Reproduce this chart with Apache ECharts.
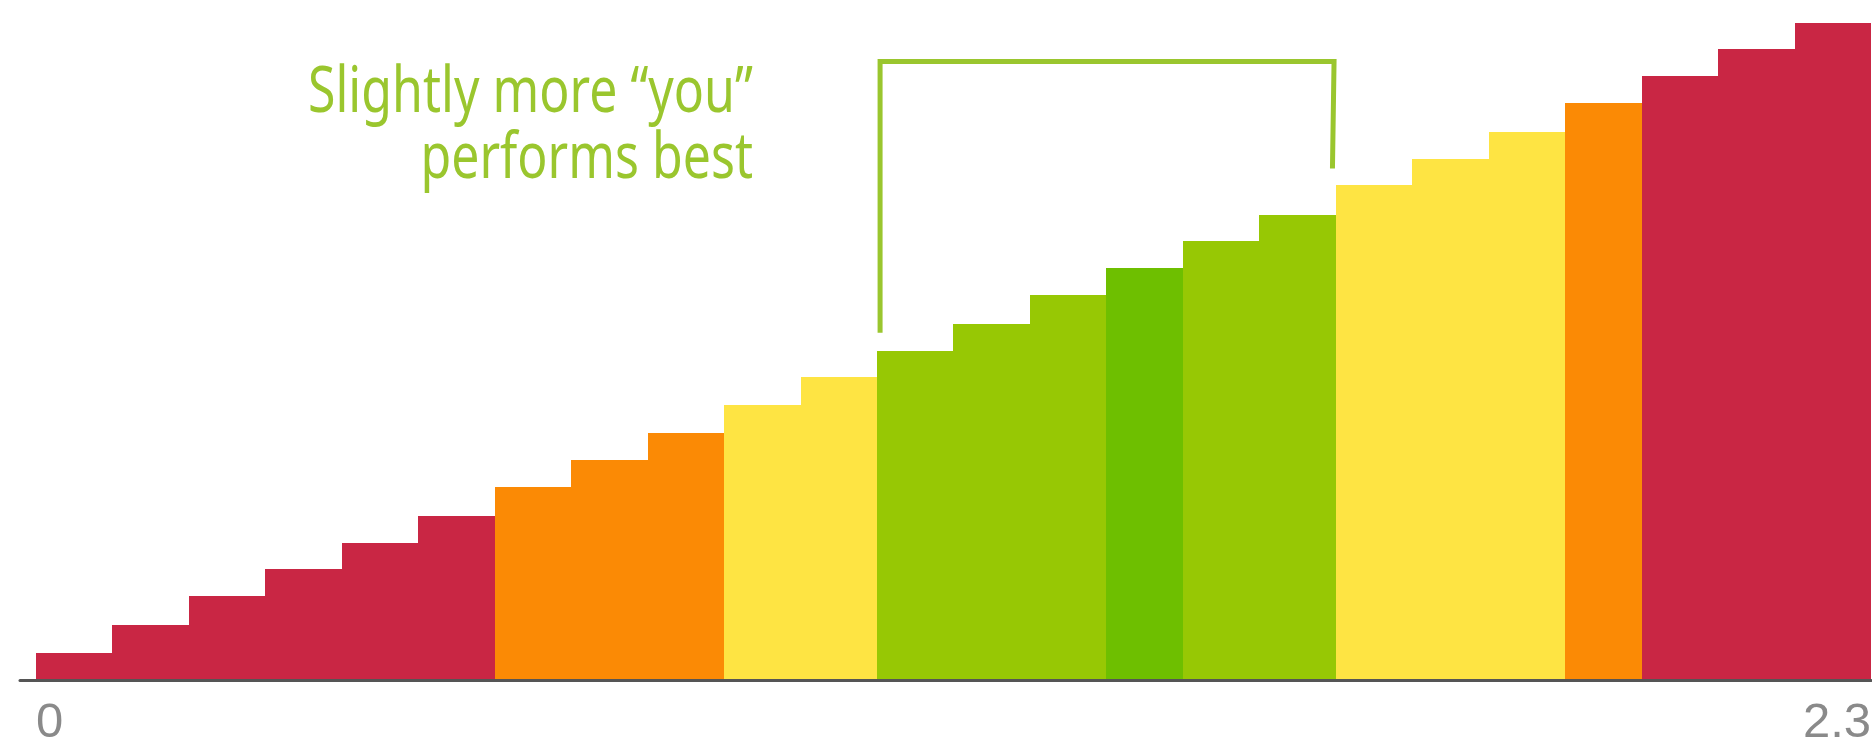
<!DOCTYPE html>
<html><head><meta charset="utf-8">
<script src="https://cdn.jsdelivr.net/npm/echarts@6/dist/echarts.min.js"></script>
<style>html,body{margin:0;padding:0;background:#fff}#chart{width:1872px;height:742px}</style>
</head><body><div id="chart"></div>
<script>
// ---- data ----
const xRange = [0, 2.3];
const xTickValues = [0, 2.3];
const xTickLabels = ['0', '2.3'];
const values = [1.02, 2.01, 3.07, 4.06, 5.01, 5.99, 7.05, 8.04, 9.02, 10.05, 11.07, 12.02,
                13.01, 14.07, 15.05, 16.04, 16.99, 18.09, 19.04, 20.02, 21.08, 22.07, 23.05, 24.0];
const groups = ['red','red','red','red','red','red','orange','orange','orange','yellow','yellow',
                'green','green','green','darkgreen','green','green','yellow','yellow','yellow',
                'orange','red','red','red'];
const annotationLines = ['Slightly more \u201Cyou\u201D', 'performs best'];
const bracketPoints = [[1.058, 12.7], [1.058, 22.6], [1.627, 22.6], [1.625, 18.7]];

// ---- styles ----
const palette = {red:'#C92644', orange:'#FB8A05', yellow:'#FEE443', green:'#97C804', darkgreen:'#6EBF00'};
const accent = '#9AC62E';
const annFamily = '"Noto Sans", "Liberation Sans", sans-serif';
const annSize = 64;

// horizontal condensing factor so the annotation matches the narrow grotesque of the original
const mctx = document.createElement('canvas').getContext('2d');
mctx.font = annSize + 'px ' + annFamily;
const annScale = 445 / mctx.measureText(annotationLines[0]).width;

const binW = (xRange[1] - xRange[0]) / values.length;
const barData = values.map((v, i) => [xRange[0] + i * binW, xRange[0] + (i + 1) * binW, v, groups[i]]);

const chart = echarts.init(document.getElementById('chart'), null, {renderer: 'canvas'});
chart.setOption({
  animation: false,
  backgroundColor: '#fff',
  grid: {left: 20, right: 1, top: 0, bottom: 61.5, containLabel: false, outerBoundsMode: 'none'},
  xAxis: {
    type: 'value', min: -0.02, max: xRange[1], z: 10,
    splitLine: {show: false},
    axisTick: {show: false},
    axisLine: {show: true, lineStyle: {color: '#555', width: 3}},
    axisLabel: {
      customValues: xTickValues,
      formatter: (v) => { const k = xTickValues.findIndex(t => Math.abs(t - v) < 1e-9); return k >= 0 ? xTickLabels[k] : ''; },
      alignMinLabel: 'left', alignMaxLabel: 'right',
      color: '#8a8a8a', fontSize: 49, fontFamily: 'Liberation Sans, Arial, sans-serif', margin: 18
    }
  },
  yAxis: {type: 'value', min: 0, max: 24.85, show: false},
  series: [
    {
      type: 'custom',
      data: barData,
      encode: {x: [0, 1], y: 2},
      renderItem: (params, api) => {
        const p0 = api.coord([api.value(0), api.value(2)]);
        const p1 = api.coord([api.value(1), 0]);
        const x0 = Math.round(p0[0]), x1 = Math.round(p1[0]);
        const y0 = Math.round(p0[1]), y1 = Math.round(p1[1]);
        const g = barData[params.dataIndex][3];
        return {type: 'rect', shape: {x: x0, y: y0, width: x1 - x0, height: y1 - y0},
                style: {fill: palette[g]}};
      },
      z: 2
    },
    {
      type: 'line',
      data: bracketPoints,
      showSymbol: false,
      symbol: 'none',
      silent: true,
      lineStyle: {color: accent, width: 5, cap: 'butt', join: 'miter'},
      z: 3
    }
  ],
  graphic: [{
    type: 'text', x: 753, y: 61, scaleX: annScale, originX: 0,
    style: {
      text: annotationLines.join('\n'),
      fill: accent,
      font: annSize + 'px ' + annFamily,
      lineHeight: 66,
      align: 'right',
      verticalAlign: 'top'
    }
  }]
});
</script></body></html>
